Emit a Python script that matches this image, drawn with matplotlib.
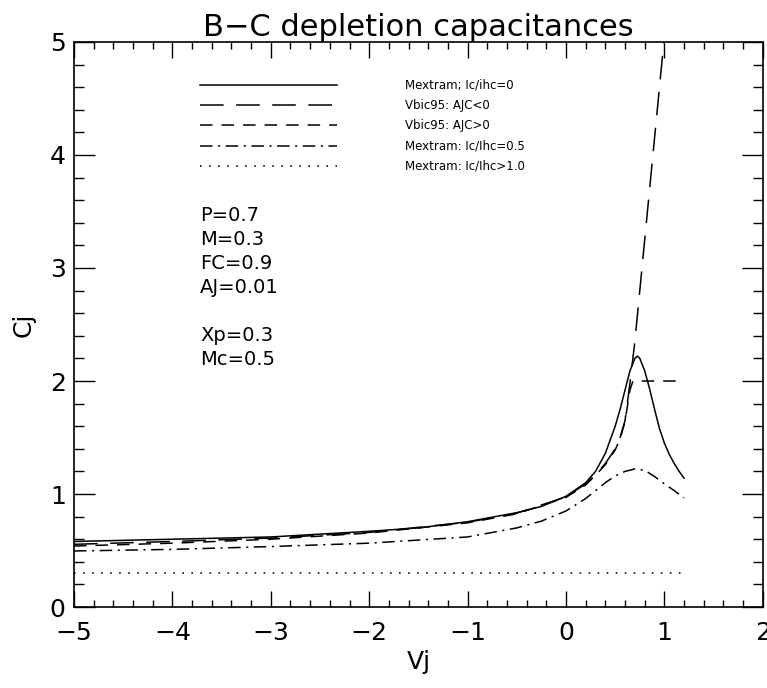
import matplotlib
matplotlib.use("Agg")
import matplotlib.pyplot as plt
from matplotlib.ticker import MultipleLocator

plt.rcParams["font.family"] = ["DejaVu Sans"]
plt.rcParams["lines.scale_dashes"] = False

# Mextram, Ic/Ihc = 0
v_mex0 = [-5, -4, -3, -2, -1.5, -1, -0.5, -0.25, 0, 0.1, 0.2, 0.3, 0.4, 0.5, 0.55,
          0.6, 0.65, 0.7, 0.725, 0.75, 0.8, 0.85, 0.9, 0.95, 1.0, 1.05, 1.1, 1.15, 1.2]
c_mex0 = [0.58, 0.60, 0.62, 0.67, 0.70, 0.755, 0.835, 0.89, 0.98, 1.04, 1.10, 1.20, 1.36, 1.60, 1.75,
          1.92, 2.09, 2.20, 2.22, 2.20, 2.09, 1.93, 1.75, 1.58, 1.45, 1.35, 1.27, 1.20, 1.14]

# Vbic95, AJC < 0
v_vbic_neg = [-5, -4, -3, -2, -1, -0.5, 0, 0.2, 0.3, 0.4, 0.5, 0.55, 0.6, 0.65, 0.7, 0.8, 0.9, 1.0, 1.2]
c_vbic_neg = [0.555, 0.58, 0.61, 0.66, 0.75, 0.83, 0.975, 1.09, 1.17, 1.27, 1.40, 1.50, 1.65, 1.98, 2.35,
              3.25, 4.15, 5.05, 6.9]

# Vbic95, AJC > 0
v_vbic_pos = [-5, -4, -3, -2, -1, -0.5, 0, 0.2, 0.3, 0.4, 0.5, 0.55, 0.6, 0.65, 0.68, 1.2]
c_vbic_pos = [0.54, 0.565, 0.60, 0.655, 0.745, 0.825, 0.97, 1.08, 1.165, 1.26, 1.39, 1.49, 1.64, 1.92, 2.0, 2.0]

# Mextram, Ic/Ihc = 0.5
v_mex05 = [-5, -4, -3, -2, -1, -0.5, -0.25, 0, 0.2, 0.4, 0.5, 0.6, 0.7, 0.8, 0.9, 1.0, 1.1, 1.2]
c_mex05 = [0.496, 0.51, 0.535, 0.565, 0.62, 0.70, 0.76, 0.85, 0.96, 1.10, 1.16, 1.20, 1.222, 1.21, 1.155,
           1.09, 1.03, 0.965]

# Mextram, Ic/Ihc > 1.0
v_mex1 = [-5, 1.2]
c_mex1 = [0.3, 0.3]

labels = ["Mextram; Ic/ihc=0", "Vbic95: AJC<0", "Vbic95: AJC>0",
          "Mextram: Ic/Ihc=0.5", "Mextram: Ic/Ihc>1.0"]

fig = plt.figure(figsize=(7.67, 6.88), dpi=100)
ax = fig.add_axes([0.0965, 0.1177, 0.898, 0.8213])

lw = 1.1
ax.plot(v_mex0, c_mex0, color="black", lw=lw, label=labels[0])
ax.plot(v_vbic_neg, c_vbic_neg, color="black", lw=lw, linestyle=(0, (17, 9)), label=labels[1])
ax.plot(v_vbic_pos, c_vbic_pos, color="black", lw=lw, linestyle=(0, (9, 6.5)), label=labels[2])
ax.plot(v_mex05, c_mex05, color="black", lw=lw, linestyle=(0, (9, 4, 1.5, 4)), label=labels[3])
ax.plot(v_mex1, c_mex1, color="black", lw=lw, linestyle=(0, (1.2, 5.3)), label=labels[4])

ax.set_xlim(-5, 2)
ax.set_ylim(0, 5)
ax.xaxis.set_major_locator(MultipleLocator(1))
ax.xaxis.set_minor_locator(MultipleLocator(0.2))
ax.yaxis.set_major_locator(MultipleLocator(1))
ax.yaxis.set_minor_locator(MultipleLocator(0.2))
ax.tick_params(axis="x", which="both", direction="in", top=True, bottom=True,
               labelsize=18, pad=10, width=1)
ax.tick_params(axis="y", which="both", direction="in", left=True, right=True,
               labelsize=18, pad=6, width=1)
ax.tick_params(axis="x", which="major", length=11.5)
ax.tick_params(axis="x", which="minor", length=5)
ax.tick_params(axis="y", which="major", length=15)
ax.tick_params(axis="y", which="minor", length=7.5)
for s in ax.spines.values():
    s.set_linewidth(1.2)

ax.set_xlabel("Vj", fontsize=18, labelpad=4)
ax.set_ylabel("Cj", fontsize=18, labelpad=10)
ax.set_title("B\u2212C depletion capacitances", fontsize=22, pad=4)

ax.legend(loc="upper left", bbox_to_anchor=(0.183, 0.935), frameon=False,
          fontsize=8.5, handlelength=11.6, handletextpad=5.8, labelspacing=0.62,
          borderpad=0, borderaxespad=0)

ax.text(0.183, 0.71, "P=0.7\nM=0.3\nFC=0.9\nAJ=0.01\n\nXp=0.3\nMc=0.5",
        transform=ax.transAxes, fontsize=14, va="top", ha="left", linespacing=1.33)

fig.savefig("out.png", dpi=100)
